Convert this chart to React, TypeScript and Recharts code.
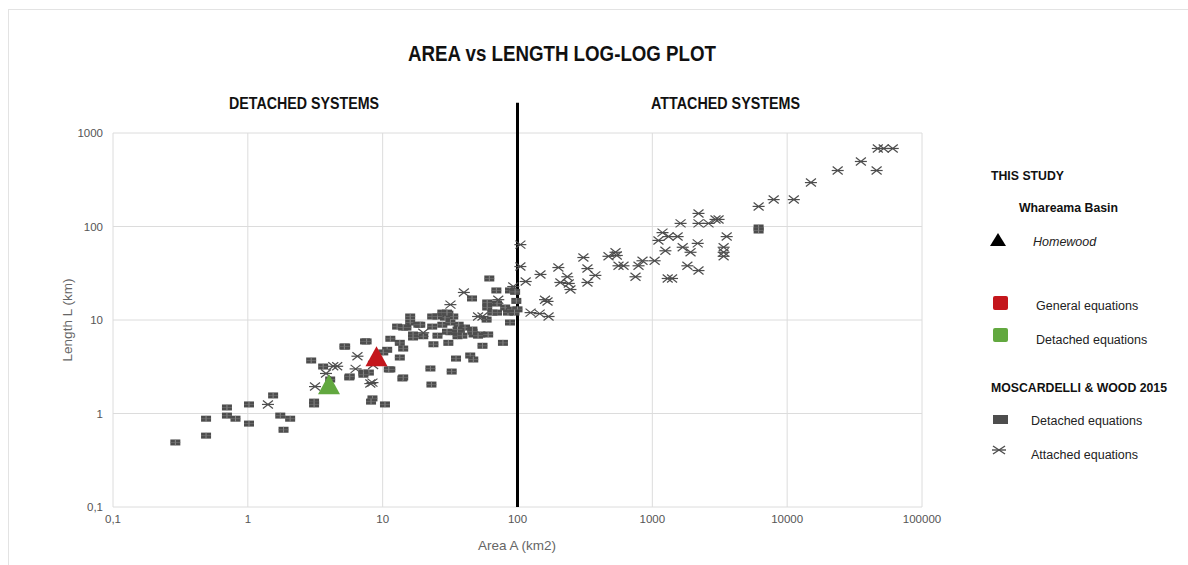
import React from 'react';
import {
  ScatterChart,
  Scatter,
  XAxis,
  YAxis,
  CartesianGrid,
  ReferenceLine,
  Customized,
} from 'recharts';

// ---------- data ----------
const xTicks = [0.1, 1, 10, 100, 1000, 10000, 100000];
const yTicks = [0.1, 1, 10, 100, 1000];

// Moscardelli & Wood 2015 – detached equations [Area km2, Length km]
const detachedMW: [number, number][] = [
  [0.29, 0.49], [0.49, 0.88], [0.49, 0.58], [0.7, 1.16], [0.7, 0.95], [0.81, 0.88],
  [1.02, 1.25], [1.02, 0.78], [1.54, 1.56], [1.74, 0.95], [2.06, 0.88], [1.84, 0.67],
  [3.1, 1.34], [3.1, 1.25], [2.95, 3.69], [3.62, 3.18], [4.08, 2.31], [5.27, 5.2],
  [5.65, 2.43], [5.7, 2.49], [7.2, 2.74], [7.9, 2.74], [7.4, 5.9], [7.2, 2.6],
  [8.4, 1.45], [8.2, 1.34], [10.4, 1.25], [11.4, 2.96], [14, 2.37], [10.8, 4.8],
  [16, 10.9], [16, 9.4], [12.8, 8.5], [15, 8.3], [18.4, 8.9], [20, 6.7], [16.8, 7.0],
  [23.3, 10.9], [23.3, 8.5], [27.7, 8.9], [30.7, 11.7], [33.4, 10.9], [36.6, 8.9],
  [31.8, 7.4], [37.4, 7.4], [40.8, 8.3], [46.3, 7.9], [47.2, 7.0], [53, 7.0], [60.6, 7.0],
  [59, 10.1], [61.8, 27.8], [69.7, 20.7], [88, 20.7], [46, 17], [59.6, 15.4], [59.6, 13.6],
  [70.5, 15], [70.5, 12], [81, 13.6], [85, 12], [91, 12.9], [65, 12], [14.2, 8.3],
  [19, 8.9], [11.4, 6.3], [13.4, 5.7], [16.8, 6.5], [14.2, 4.95], [13.4, 3.97],
  [11.1, 2.96], [10.1, 4.5], [7.6, 5.9], [5.2, 5.2], [14.2, 2.43], [22.6, 3.03],
  [23, 2.04], [32.5, 2.81], [35, 3.87], [44.6, 4.17], [47, 3.78], [55, 5.3], [78, 5.7],
  [23.8, 5.5], [30.7, 5.7], [35.9, 6.7], [39, 6.8], [46.3, 7.5], [51, 6.8], [25.5, 6.8],
  [30, 7.5], [35.9, 7.9], [31.8, 9.4], [29, 10.6], [25.5, 10.9], [27.7, 12], [30, 12],
  [96, 20], [98, 16], [100, 13], [95, 12], [88, 9.4], [6140, 97.6], [6140, 90.6],
];

// Moscardelli & Wood 2015 – attached equations [Area km2, Length km]
const attachedMW: [number, number][] = [
  [6.5, 4.1], [6.3, 3.0], [8.1, 2.09], [3.8, 2.68], [3.15, 1.94], [4.3, 3.2], [4.6, 3.2],
  [1.41, 1.25], [8.4, 2.14], [8.5, 3.3], [20, 7.3], [40, 19.7], [31.8, 14.6], [55, 10.9],
  [72, 16.5], [93, 22.8], [51, 10.9],
  [52000, 683], [47000, 683], [60700, 683], [35200, 496], [23700, 397], [46100, 397],
  [15000, 295], [7940, 194], [11200, 194], [6140, 164], [2200, 138], [1620, 108],
  [2200, 108], [2610, 108], [3100, 119], [2940, 119], [1190, 86], [1320, 78], [1540, 78],
  [1110, 71], [3560, 78], [1250, 55], [1680, 60], [1920, 53], [2170, 66], [3380, 60],
  [3380, 53], [3380, 48], [1820, 38], [2200, 33.8], [1300, 27.8], [1400, 27.8], [1040, 43],
  [845, 43], [790, 38], [750, 29], [611, 38], [561, 38], [533, 53], [473, 48], [545, 49],
  [308, 46.6], [330, 35.5], [378, 30], [330, 25.2], [234, 29], [240, 24.6], [247, 21.2],
  [208, 25.2], [201, 36.4], [148, 30.7], [115, 25.8], [167, 15.8], [125, 12], [146, 11.7],
  [170, 10.9], [105, 64], [105, 37.3], [160, 16.5],
];

// This study – Whareama Basin, Homewood
const generalEq: [number, number][] = [[9, 4]];
const detachedEq: [number, number][] = [[4, 2]];

const boundaryArea = 100;

// ---------- styles ----------
const NARROW = "'Liberation Sans Narrow', 'Arial Narrow', 'Liberation Sans', Arial, sans-serif";
const SANS = "'Liberation Sans', Arial, sans-serif";
const MARK = '#4d4d4d';

const toPts = (arr: [number, number][]) => arr.map(([x, y]) => ({ x, y }));

const RectMark = (p: any) => {
  const { cx, cy } = p;
  if (cx == null || cy == null) return <g />;
  return (
    <g>
      <rect x={cx - 5} y={cy - 3} width={10} height={6} fill={MARK} />
      <line x1={cx} y1={cy - 3} x2={cx} y2={cy + 3} stroke="#9a9a9a" strokeWidth={0.8} />
      <line x1={cx - 5} y1={cy} x2={cx + 5} y2={cy} stroke="#7a7a7a" strokeWidth={0.6} />
    </g>
  );
};

const StarMark = (p: any) => {
  const { cx, cy } = p;
  if (cx == null || cy == null) return <g />;
  return (
    <g stroke={MARK} strokeWidth={1.2} fill="none">
      <line x1={cx - 6} y1={cy} x2={cx + 6} y2={cy} />
      <line x1={cx - 5} y1={cy - 4} x2={cx + 5} y2={cy + 4} />
      <line x1={cx - 5} y1={cy + 4} x2={cx + 5} y2={cy - 4} />
    </g>
  );
};

const triangle = (color: string) => (p: any) => {
  const { cx, cy } = p;
  if (cx == null || cy == null) return <g />;
  return (
    <polygon
      points={`${cx},${cy - 11} ${cx + 11},${cy + 9} ${cx - 11},${cy + 9}`}
      fill={color}
    />
  );
};

const Decorations = () => (
  <g>
    <rect x={8.5} y={9.5} width={1200} height={600} fill="none" stroke="#e3e3e3" />
    <text x={408} y={61} textLength={308} lengthAdjust="spacingAndGlyphs" fontFamily={NARROW} fontWeight="bold" fontSize={22} fill="#111">
      AREA vs LENGTH LOG-LOG PLOT
    </text>
    <text x={229} y={109} textLength={150} lengthAdjust="spacingAndGlyphs" fontFamily={NARROW} fontWeight="bold" fontSize={17} fill="#111">
      DETACHED SYSTEMS
    </text>
    <text x={651} y={109} textLength={149} lengthAdjust="spacingAndGlyphs" fontFamily={NARROW} fontWeight="bold" fontSize={17} fill="#111">
      ATTACHED SYSTEMS
    </text>
    <text
      x={67}
      y={320}
      textAnchor="middle"
      dominantBaseline="central"
      transform="rotate(-90 67 320)"
      fontFamily={SANS}
      fontSize={13.5}
      fill="#666"
    >
      Length L (km)
    </text>
    <text x={517} y={550} textAnchor="middle" fontFamily={SANS} fontSize={13.5} fill="#666">
      Area A (km2)
    </text>

    {/* legend */}
    <g fontFamily={NARROW} fontWeight="bold" fontSize={13.5} fill="#111">
      <text x={991} y={180} textLength={73} lengthAdjust="spacingAndGlyphs">THIS STUDY</text>
      <text x={1019} y={212} textLength={99} lengthAdjust="spacingAndGlyphs">Whareama Basin</text>
      <text x={991} y={392} textLength={176} lengthAdjust="spacingAndGlyphs">MOSCARDELLI &amp; WOOD 2015</text>
    </g>
    <polygon points="998,233 1006,246 990,246" fill="#000" />
    <text x={1033} y={246} fontFamily={SANS} fontStyle="italic" fontSize={12.5} fill="#222">
      Homewood
    </text>
    <rect x={993} y={296} width={15} height={14} rx={2} fill="#c4161c" />
    <text x={1036} y={310} fontFamily={SANS} fontSize={12.5} fill="#222">
      General equations
    </text>
    <rect x={993} y={328} width={15} height={14} rx={2} fill="#62a83f" />
    <text x={1036} y={344} fontFamily={SANS} fontSize={12.5} fill="#222">
      Detached equations
    </text>
    <rect x={993} y={415} width={15} height={9} fill={MARK} />
    <text x={1031} y={425} fontFamily={SANS} fontSize={12.5} fill="#222">
      Detached equations
    </text>
    <g stroke={MARK} strokeWidth={1.4}>
      <line x1={992} y1={450} x2={1006} y2={450} />
      <line x1={993} y1={446} x2={1005} y2={454} />
      <line x1={993} y1={454} x2={1005} y2={446} />
    </g>
    <text x={1031} y={459} fontFamily={SANS} fontSize={12.5} fill="#222">
      Attached equations
    </text>
  </g>
);

const fmt = (v: number) => String(v).replace('.', ',');

export default function App() {
  return (
    <div style={{ position: 'absolute', left: 0, top: 0, width: 1188, height: 565, background: '#fff' }}>
      <ScatterChart
        width={1188}
        height={565}
        margin={{ top: 133, right: 266, bottom: 28, left: 53 }}
      >
        <CartesianGrid stroke="#dcdcdc" strokeWidth={1} />
        <XAxis
          dataKey="x"
          type="number"
          scale="log"
          domain={[0.1, 100000]}
          ticks={xTicks}
          allowDataOverflow
          axisLine={false}
          tickLine={false}
          tickFormatter={fmt}
          tick={{ fill: '#555', fontSize: 11.5, fontFamily: SANS }}
          height={30}
          interval={0}
        />
        <YAxis
          dataKey="y"
          type="number"
          scale="log"
          domain={[0.1, 1000]}
          ticks={yTicks}
          allowDataOverflow
          axisLine={false}
          tickLine={false}
          tickFormatter={fmt}
          tick={{ fill: '#555', fontSize: 11.5, fontFamily: SANS }}
          width={60}
          tickMargin={4}
          interval={0}
        />
        <Scatter data={toPts(detachedMW)} shape={RectMark} isAnimationActive={false} />
        <Scatter data={toPts(attachedMW)} shape={StarMark} isAnimationActive={false} />
        <ReferenceLine
          segment={[
            { x: boundaryArea, y: 0.1 },
            { x: boundaryArea, y: 2100 },
          ]}
          ifOverflow="visible"
          stroke="#000"
          strokeWidth={3}
        />
        <Scatter data={toPts(detachedEq)} shape={triangle('#62a83f')} isAnimationActive={false} />
        <Scatter data={toPts(generalEq)} shape={triangle('#c4161c')} isAnimationActive={false} />
        <Customized component={<Decorations />} />
      </ScatterChart>
    </div>
  );
}
